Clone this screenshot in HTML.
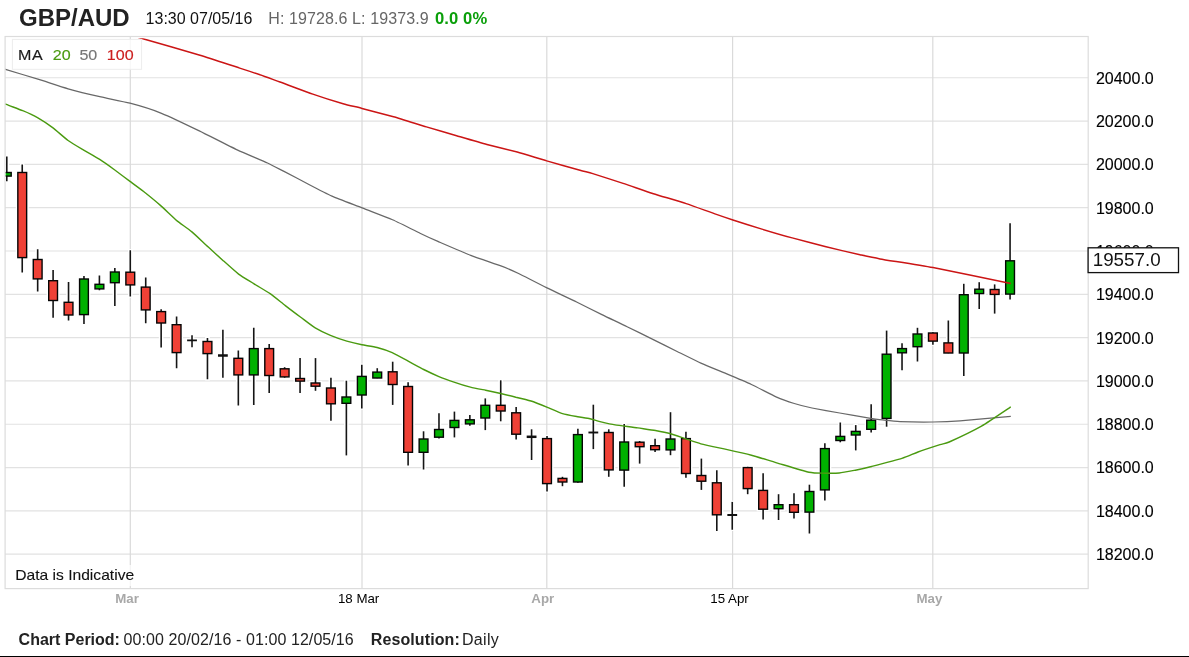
<!DOCTYPE html>
<html><head><meta charset="utf-8"><title>GBP/AUD</title>
<style>
html,body{margin:0;padding:0;background:#fff;}
body{width:1189px;height:657px;overflow:hidden;font-family:"Liberation Sans",sans-serif;}
svg{display:block;}
text{-webkit-font-smoothing:antialiased;}
svg{will-change:transform;}
text{font-family:"Liberation Sans",sans-serif;}
</style></head><body>
<svg width="1189" height="657" viewBox="0 0 1189 657">
<defs><clipPath id="cp"><rect x="5.7" y="38.2" width="1082" height="550"/></clipPath></defs>
<rect x="0" y="0" width="1189" height="657" fill="#fff"/>

<text x="19.0" y="25.6" font-size="24" font-weight="bold" fill="#222">GBP/AUD</text>
<text x="145.6" y="23.9" font-size="16" fill="#111">13:30 07/05/16</text>
<text x="268.3" y="23.9" font-size="16" letter-spacing="0.1" fill="#666">H: 19728.6 L: 19373.9</text>
<text x="435.0" y="23.9" font-size="16.6" letter-spacing="0.1" font-weight="bold" fill="#0a9f0a">0.0 0%</text>
<g stroke="#e2e2e2" stroke-width="1.2" fill="none">
<line x1="5.1" y1="77.75" x2="1088.2" y2="77.75"/>
<line x1="5.1" y1="121.06" x2="1088.2" y2="121.06"/>
<line x1="5.1" y1="164.37" x2="1088.2" y2="164.37"/>
<line x1="5.1" y1="207.68" x2="1088.2" y2="207.68"/>
<line x1="5.1" y1="250.99" x2="1088.2" y2="250.99"/>
<line x1="5.1" y1="294.30" x2="1088.2" y2="294.30"/>
<line x1="5.1" y1="337.61" x2="1088.2" y2="337.61"/>
<line x1="5.1" y1="380.92" x2="1088.2" y2="380.92"/>
<line x1="5.1" y1="424.23" x2="1088.2" y2="424.23"/>
<line x1="5.1" y1="467.54" x2="1088.2" y2="467.54"/>
<line x1="5.1" y1="510.85" x2="1088.2" y2="510.85"/>
<line x1="5.1" y1="554.16" x2="1088.2" y2="554.16"/>
</g>
<g stroke="#dadada" stroke-width="1.2" fill="none">
<line x1="130.3" y1="36.5" x2="130.3" y2="588.6"/>
<line x1="362.0" y1="36.5" x2="362.0" y2="588.6"/>
<line x1="546.8" y1="36.5" x2="546.8" y2="588.6"/>
<line x1="732.6" y1="36.5" x2="732.6" y2="588.6"/>
<line x1="932.8" y1="36.5" x2="932.8" y2="588.6"/>
</g>
<rect x="5.1" y="36.5" width="1083.1" height="552.1" fill="none" stroke="#dcdcdc" stroke-width="1.2"/>
<g clip-path="url(#cp)">
<g stroke="#fff" fill="#fff" stroke-linecap="butt">
<line x1="6.80" y1="155.4" x2="6.80" y2="182.5" stroke-width="4.6"/>
<rect x="2.40" y="172.5" width="8.8" height="3.6" stroke-width="4.2"/>
<line x1="22.23" y1="163.2" x2="22.23" y2="273.6" stroke-width="4.6"/>
<rect x="17.84" y="172.5" width="8.8" height="85.1" stroke-width="4.2"/>
<line x1="37.67" y1="248.0" x2="37.67" y2="292.8" stroke-width="4.6"/>
<rect x="33.27" y="259.5" width="8.8" height="19.4" stroke-width="4.2"/>
<line x1="53.10" y1="268.8" x2="53.10" y2="319.0" stroke-width="4.6"/>
<rect x="48.70" y="280.7" width="8.8" height="19.8" stroke-width="4.2"/>
<line x1="68.54" y1="280.7" x2="68.54" y2="321.6" stroke-width="4.6"/>
<rect x="64.14" y="302.3" width="8.8" height="12.7" stroke-width="4.2"/>
<line x1="83.97" y1="274.8" x2="83.97" y2="325.1" stroke-width="4.6"/>
<rect x="79.57" y="279.0" width="8.8" height="35.6" stroke-width="4.2"/>
<line x1="99.41" y1="274.2" x2="99.41" y2="291.4" stroke-width="4.6"/>
<rect x="95.01" y="284.3" width="8.8" height="4.6" stroke-width="4.2"/>
<line x1="114.84" y1="266.8" x2="114.84" y2="307.3" stroke-width="4.6"/>
<rect x="110.44" y="272.0" width="8.8" height="10.7" stroke-width="4.2"/>
<line x1="130.28" y1="249.0" x2="130.28" y2="297.8" stroke-width="4.6"/>
<rect x="125.88" y="272.2" width="8.8" height="12.7" stroke-width="4.2"/>
<line x1="145.72" y1="276.2" x2="145.72" y2="324.5" stroke-width="4.6"/>
<rect x="141.31" y="287.1" width="8.8" height="22.8" stroke-width="4.2"/>
<line x1="161.15" y1="308.0" x2="161.15" y2="348.6" stroke-width="4.6"/>
<rect x="156.75" y="311.6" width="8.8" height="11.4" stroke-width="4.2"/>
<line x1="176.59" y1="315.3" x2="176.59" y2="369.4" stroke-width="4.6"/>
<rect x="172.19" y="324.7" width="8.8" height="27.9" stroke-width="4.2"/>
<line x1="192.02" y1="334.0" x2="192.02" y2="348.5" stroke-width="4.6"/>
<line x1="185.72" y1="340.4" x2="198.32" y2="340.4" stroke-width="4.8"/>
<line x1="207.46" y1="336.8" x2="207.46" y2="380.5" stroke-width="4.6"/>
<rect x="203.06" y="341.5" width="8.8" height="12.1" stroke-width="4.2"/>
<line x1="222.89" y1="328.6" x2="222.89" y2="378.9" stroke-width="4.6"/>
<line x1="216.59" y1="355.5" x2="229.19" y2="355.5" stroke-width="4.8"/>
<line x1="238.33" y1="349.3" x2="238.33" y2="406.8" stroke-width="4.6"/>
<rect x="233.93" y="358.3" width="8.8" height="16.6" stroke-width="4.2"/>
<line x1="253.76" y1="326.5" x2="253.76" y2="406.2" stroke-width="4.6"/>
<rect x="249.36" y="348.6" width="8.8" height="26.3" stroke-width="4.2"/>
<line x1="269.19" y1="342.8" x2="269.19" y2="394.1" stroke-width="4.6"/>
<rect x="264.80" y="348.6" width="8.8" height="26.9" stroke-width="4.2"/>
<line x1="284.63" y1="366.0" x2="284.63" y2="378.9" stroke-width="4.6"/>
<rect x="280.23" y="368.8" width="8.8" height="8.1" stroke-width="4.2"/>
<line x1="300.06" y1="356.7" x2="300.06" y2="394.1" stroke-width="4.6"/>
<rect x="295.67" y="378.5" width="8.8" height="2.6" stroke-width="4.2"/>
<line x1="315.50" y1="356.9" x2="315.50" y2="392.0" stroke-width="4.6"/>
<rect x="311.10" y="383.0" width="8.8" height="3.2" stroke-width="4.2"/>
<line x1="330.94" y1="376.5" x2="330.94" y2="421.9" stroke-width="4.6"/>
<rect x="326.54" y="388.0" width="8.8" height="15.8" stroke-width="4.2"/>
<line x1="346.37" y1="379.5" x2="346.37" y2="456.6" stroke-width="4.6"/>
<rect x="341.97" y="397.0" width="8.8" height="6.3" stroke-width="4.2"/>
<line x1="361.81" y1="363.6" x2="361.81" y2="409.7" stroke-width="4.6"/>
<rect x="357.41" y="376.4" width="8.8" height="18.6" stroke-width="4.2"/>
<line x1="377.24" y1="367.0" x2="377.24" y2="379.4" stroke-width="4.6"/>
<rect x="372.84" y="372.1" width="8.8" height="5.9" stroke-width="4.2"/>
<line x1="392.68" y1="360.5" x2="392.68" y2="406.1" stroke-width="4.6"/>
<rect x="388.28" y="371.8" width="8.8" height="12.7" stroke-width="4.2"/>
<line x1="408.11" y1="381.1" x2="408.11" y2="466.7" stroke-width="4.6"/>
<rect x="403.71" y="386.5" width="8.8" height="65.8" stroke-width="4.2"/>
<line x1="423.55" y1="430.1" x2="423.55" y2="470.7" stroke-width="4.6"/>
<rect x="419.15" y="439.0" width="8.8" height="13.3" stroke-width="4.2"/>
<line x1="438.98" y1="412.0" x2="438.98" y2="439.6" stroke-width="4.6"/>
<rect x="434.58" y="429.5" width="8.8" height="7.7" stroke-width="4.2"/>
<line x1="454.42" y1="410.4" x2="454.42" y2="438.6" stroke-width="4.6"/>
<rect x="450.02" y="420.4" width="8.8" height="7.1" stroke-width="4.2"/>
<line x1="469.85" y1="413.8" x2="469.85" y2="426.9" stroke-width="4.6"/>
<rect x="465.45" y="419.8" width="8.8" height="4.1" stroke-width="4.2"/>
<line x1="485.29" y1="397.2" x2="485.29" y2="431.3" stroke-width="4.6"/>
<rect x="480.89" y="405.3" width="8.8" height="12.7" stroke-width="4.2"/>
<line x1="500.72" y1="379.1" x2="500.72" y2="422.5" stroke-width="4.6"/>
<rect x="496.32" y="405.3" width="8.8" height="5.7" stroke-width="4.2"/>
<line x1="516.15" y1="405.7" x2="516.15" y2="440.6" stroke-width="4.6"/>
<rect x="511.75" y="412.8" width="8.8" height="21.4" stroke-width="4.2"/>
<line x1="531.59" y1="428.1" x2="531.59" y2="461.2" stroke-width="4.6"/>
<line x1="525.29" y1="436.8" x2="537.89" y2="436.8" stroke-width="4.8"/>
<line x1="547.02" y1="434.8" x2="547.02" y2="492.7" stroke-width="4.6"/>
<rect x="542.62" y="438.6" width="8.8" height="45.0" stroke-width="4.2"/>
<line x1="562.46" y1="475.6" x2="562.46" y2="487.4" stroke-width="4.6"/>
<rect x="558.06" y="478.4" width="8.8" height="3.6" stroke-width="4.2"/>
<line x1="577.89" y1="427.5" x2="577.89" y2="484.0" stroke-width="4.6"/>
<rect x="573.50" y="434.6" width="8.8" height="47.4" stroke-width="4.2"/>
<line x1="593.33" y1="403.5" x2="593.33" y2="450.3" stroke-width="4.6"/>
<line x1="587.03" y1="432.5" x2="599.63" y2="432.5" stroke-width="4.8"/>
<line x1="608.76" y1="428.1" x2="608.76" y2="478.0" stroke-width="4.6"/>
<rect x="604.37" y="432.5" width="8.8" height="37.4" stroke-width="4.2"/>
<line x1="624.20" y1="422.7" x2="624.20" y2="488.0" stroke-width="4.6"/>
<rect x="619.80" y="442.0" width="8.8" height="28.1" stroke-width="4.2"/>
<line x1="639.63" y1="439.8" x2="639.63" y2="464.8" stroke-width="4.6"/>
<rect x="635.24" y="442.2" width="8.8" height="4.5" stroke-width="4.2"/>
<line x1="655.07" y1="437.6" x2="655.07" y2="453.1" stroke-width="4.6"/>
<rect x="650.67" y="445.7" width="8.8" height="4.0" stroke-width="4.2"/>
<line x1="670.50" y1="411.0" x2="670.50" y2="456.4" stroke-width="4.6"/>
<rect x="666.11" y="439.0" width="8.8" height="10.9" stroke-width="4.2"/>
<line x1="685.94" y1="430.5" x2="685.94" y2="479.0" stroke-width="4.6"/>
<rect x="681.54" y="438.6" width="8.8" height="34.9" stroke-width="4.2"/>
<line x1="701.38" y1="457.4" x2="701.38" y2="491.1" stroke-width="4.6"/>
<rect x="696.98" y="475.5" width="8.8" height="5.7" stroke-width="4.2"/>
<line x1="716.81" y1="469.0" x2="716.81" y2="532.3" stroke-width="4.6"/>
<rect x="712.41" y="482.8" width="8.8" height="32.0" stroke-width="4.2"/>
<line x1="732.25" y1="500.7" x2="732.25" y2="530.9" stroke-width="4.6"/>
<line x1="725.95" y1="515.0" x2="738.54" y2="515.0" stroke-width="4.8"/>
<line x1="747.68" y1="465.6" x2="747.68" y2="495.4" stroke-width="4.6"/>
<rect x="743.28" y="467.6" width="8.8" height="21.0" stroke-width="4.2"/>
<line x1="763.12" y1="472.0" x2="763.12" y2="520.8" stroke-width="4.6"/>
<rect x="758.72" y="490.4" width="8.8" height="18.8" stroke-width="4.2"/>
<line x1="778.55" y1="493.0" x2="778.55" y2="521.2" stroke-width="4.6"/>
<rect x="774.15" y="504.7" width="8.8" height="4.0" stroke-width="4.2"/>
<line x1="793.99" y1="492.0" x2="793.99" y2="519.6" stroke-width="4.6"/>
<rect x="789.59" y="504.7" width="8.8" height="7.6" stroke-width="4.2"/>
<line x1="809.42" y1="483.5" x2="809.42" y2="534.7" stroke-width="4.6"/>
<rect x="805.02" y="491.5" width="8.8" height="20.6" stroke-width="4.2"/>
<line x1="824.86" y1="442.1" x2="824.86" y2="501.6" stroke-width="4.6"/>
<rect x="820.46" y="448.6" width="8.8" height="41.3" stroke-width="4.2"/>
<line x1="840.29" y1="421.3" x2="840.29" y2="443.5" stroke-width="4.6"/>
<rect x="835.89" y="436.4" width="8.8" height="4.1" stroke-width="4.2"/>
<line x1="855.73" y1="423.9" x2="855.73" y2="451.6" stroke-width="4.6"/>
<rect x="851.33" y="431.4" width="8.8" height="3.6" stroke-width="4.2"/>
<line x1="871.16" y1="403.1" x2="871.16" y2="433.6" stroke-width="4.6"/>
<rect x="866.76" y="420.2" width="8.8" height="9.1" stroke-width="4.2"/>
<line x1="886.60" y1="329.4" x2="886.60" y2="427.9" stroke-width="4.6"/>
<rect x="882.20" y="354.2" width="8.8" height="64.2" stroke-width="4.2"/>
<line x1="902.03" y1="342.1" x2="902.03" y2="371.4" stroke-width="4.6"/>
<rect x="897.63" y="348.6" width="8.8" height="4.2" stroke-width="4.2"/>
<line x1="917.47" y1="326.6" x2="917.47" y2="362.7" stroke-width="4.6"/>
<rect x="913.07" y="334.0" width="8.8" height="12.7" stroke-width="4.2"/>
<line x1="932.90" y1="331.0" x2="932.90" y2="345.9" stroke-width="4.6"/>
<rect x="928.50" y="333.0" width="8.8" height="8.1" stroke-width="4.2"/>
<line x1="948.34" y1="319.3" x2="948.34" y2="354.4" stroke-width="4.6"/>
<rect x="943.94" y="342.9" width="8.8" height="10.1" stroke-width="4.2"/>
<line x1="963.77" y1="282.6" x2="963.77" y2="377.2" stroke-width="4.6"/>
<rect x="959.37" y="294.7" width="8.8" height="58.3" stroke-width="4.2"/>
<line x1="979.21" y1="281.0" x2="979.21" y2="310.2" stroke-width="4.6"/>
<rect x="974.81" y="289.2" width="8.8" height="4.4" stroke-width="4.2"/>
<line x1="994.64" y1="283.2" x2="994.64" y2="314.8" stroke-width="4.6"/>
<rect x="990.24" y="289.5" width="8.8" height="4.9" stroke-width="4.2"/>
<line x1="1010.07" y1="222.0" x2="1010.07" y2="300.7" stroke-width="4.6"/>
<rect x="1005.67" y="260.8" width="8.8" height="33.3" stroke-width="4.2"/>
</g>
<line x1="6.80" y1="156.6" x2="6.80" y2="181.3" stroke="#151515" stroke-width="1.6"/>
<rect x="2.40" y="172.5" width="8.8" height="3.6" fill="#00b100" stroke="#050505" stroke-width="1.4"/>
<line x1="22.23" y1="164.4" x2="22.23" y2="272.4" stroke="#151515" stroke-width="1.6"/>
<rect x="17.84" y="172.5" width="8.8" height="85.1" fill="#ef4136" stroke="#050505" stroke-width="1.4"/>
<line x1="37.67" y1="249.2" x2="37.67" y2="291.6" stroke="#151515" stroke-width="1.6"/>
<rect x="33.27" y="259.5" width="8.8" height="19.4" fill="#ef4136" stroke="#050505" stroke-width="1.4"/>
<line x1="53.10" y1="270.0" x2="53.10" y2="317.8" stroke="#151515" stroke-width="1.6"/>
<rect x="48.70" y="280.7" width="8.8" height="19.8" fill="#ef4136" stroke="#050505" stroke-width="1.4"/>
<line x1="68.54" y1="281.9" x2="68.54" y2="320.4" stroke="#151515" stroke-width="1.6"/>
<rect x="64.14" y="302.3" width="8.8" height="12.7" fill="#ef4136" stroke="#050505" stroke-width="1.4"/>
<line x1="83.97" y1="276.0" x2="83.97" y2="323.9" stroke="#151515" stroke-width="1.6"/>
<rect x="79.57" y="279.0" width="8.8" height="35.6" fill="#00b100" stroke="#050505" stroke-width="1.4"/>
<line x1="99.41" y1="275.4" x2="99.41" y2="290.2" stroke="#151515" stroke-width="1.6"/>
<rect x="95.01" y="284.3" width="8.8" height="4.6" fill="#00b100" stroke="#050505" stroke-width="1.4"/>
<line x1="114.84" y1="268.0" x2="114.84" y2="306.1" stroke="#151515" stroke-width="1.6"/>
<rect x="110.44" y="272.0" width="8.8" height="10.7" fill="#00b100" stroke="#050505" stroke-width="1.4"/>
<line x1="130.28" y1="250.2" x2="130.28" y2="296.6" stroke="#151515" stroke-width="1.6"/>
<rect x="125.88" y="272.2" width="8.8" height="12.7" fill="#ef4136" stroke="#050505" stroke-width="1.4"/>
<line x1="145.72" y1="277.4" x2="145.72" y2="323.3" stroke="#151515" stroke-width="1.6"/>
<rect x="141.31" y="287.1" width="8.8" height="22.8" fill="#ef4136" stroke="#050505" stroke-width="1.4"/>
<line x1="161.15" y1="309.2" x2="161.15" y2="347.4" stroke="#151515" stroke-width="1.6"/>
<rect x="156.75" y="311.6" width="8.8" height="11.4" fill="#ef4136" stroke="#050505" stroke-width="1.4"/>
<line x1="176.59" y1="316.5" x2="176.59" y2="368.2" stroke="#151515" stroke-width="1.6"/>
<rect x="172.19" y="324.7" width="8.8" height="27.9" fill="#ef4136" stroke="#050505" stroke-width="1.4"/>
<line x1="192.02" y1="335.2" x2="192.02" y2="347.3" stroke="#151515" stroke-width="1.6"/>
<line x1="187.12" y1="340.4" x2="196.92" y2="340.4" stroke="#111" stroke-width="1.9"/>
<line x1="207.46" y1="338.0" x2="207.46" y2="379.3" stroke="#151515" stroke-width="1.6"/>
<rect x="203.06" y="341.5" width="8.8" height="12.1" fill="#ef4136" stroke="#050505" stroke-width="1.4"/>
<line x1="222.89" y1="329.8" x2="222.89" y2="377.7" stroke="#151515" stroke-width="1.6"/>
<line x1="217.99" y1="355.5" x2="227.79" y2="355.5" stroke="#111" stroke-width="2.5"/>
<line x1="238.33" y1="350.5" x2="238.33" y2="405.6" stroke="#151515" stroke-width="1.6"/>
<rect x="233.93" y="358.3" width="8.8" height="16.6" fill="#ef4136" stroke="#050505" stroke-width="1.4"/>
<line x1="253.76" y1="327.7" x2="253.76" y2="405.0" stroke="#151515" stroke-width="1.6"/>
<rect x="249.36" y="348.6" width="8.8" height="26.3" fill="#00b100" stroke="#050505" stroke-width="1.4"/>
<line x1="269.19" y1="344.0" x2="269.19" y2="392.9" stroke="#151515" stroke-width="1.6"/>
<rect x="264.80" y="348.6" width="8.8" height="26.9" fill="#ef4136" stroke="#050505" stroke-width="1.4"/>
<line x1="284.63" y1="367.2" x2="284.63" y2="377.7" stroke="#151515" stroke-width="1.6"/>
<rect x="280.23" y="368.8" width="8.8" height="8.1" fill="#ef4136" stroke="#050505" stroke-width="1.4"/>
<line x1="300.06" y1="357.9" x2="300.06" y2="392.9" stroke="#151515" stroke-width="1.6"/>
<rect x="295.67" y="378.5" width="8.8" height="2.6" fill="#ef4136" stroke="#050505" stroke-width="1.4"/>
<line x1="315.50" y1="358.1" x2="315.50" y2="390.8" stroke="#151515" stroke-width="1.6"/>
<rect x="311.10" y="383.0" width="8.8" height="3.2" fill="#ef4136" stroke="#050505" stroke-width="1.4"/>
<line x1="330.94" y1="377.7" x2="330.94" y2="420.7" stroke="#151515" stroke-width="1.6"/>
<rect x="326.54" y="388.0" width="8.8" height="15.8" fill="#ef4136" stroke="#050505" stroke-width="1.4"/>
<line x1="346.37" y1="380.7" x2="346.37" y2="455.4" stroke="#151515" stroke-width="1.6"/>
<rect x="341.97" y="397.0" width="8.8" height="6.3" fill="#00b100" stroke="#050505" stroke-width="1.4"/>
<line x1="361.81" y1="364.8" x2="361.81" y2="408.5" stroke="#151515" stroke-width="1.6"/>
<rect x="357.41" y="376.4" width="8.8" height="18.6" fill="#00b100" stroke="#050505" stroke-width="1.4"/>
<line x1="377.24" y1="368.2" x2="377.24" y2="378.2" stroke="#151515" stroke-width="1.6"/>
<rect x="372.84" y="372.1" width="8.8" height="5.9" fill="#00b100" stroke="#050505" stroke-width="1.4"/>
<line x1="392.68" y1="361.7" x2="392.68" y2="404.9" stroke="#151515" stroke-width="1.6"/>
<rect x="388.28" y="371.8" width="8.8" height="12.7" fill="#ef4136" stroke="#050505" stroke-width="1.4"/>
<line x1="408.11" y1="382.3" x2="408.11" y2="465.5" stroke="#151515" stroke-width="1.6"/>
<rect x="403.71" y="386.5" width="8.8" height="65.8" fill="#ef4136" stroke="#050505" stroke-width="1.4"/>
<line x1="423.55" y1="431.3" x2="423.55" y2="469.5" stroke="#151515" stroke-width="1.6"/>
<rect x="419.15" y="439.0" width="8.8" height="13.3" fill="#00b100" stroke="#050505" stroke-width="1.4"/>
<line x1="438.98" y1="413.2" x2="438.98" y2="438.4" stroke="#151515" stroke-width="1.6"/>
<rect x="434.58" y="429.5" width="8.8" height="7.7" fill="#00b100" stroke="#050505" stroke-width="1.4"/>
<line x1="454.42" y1="411.6" x2="454.42" y2="437.4" stroke="#151515" stroke-width="1.6"/>
<rect x="450.02" y="420.4" width="8.8" height="7.1" fill="#00b100" stroke="#050505" stroke-width="1.4"/>
<line x1="469.85" y1="415.0" x2="469.85" y2="425.7" stroke="#151515" stroke-width="1.6"/>
<rect x="465.45" y="419.8" width="8.8" height="4.1" fill="#00b100" stroke="#050505" stroke-width="1.4"/>
<line x1="485.29" y1="398.4" x2="485.29" y2="430.1" stroke="#151515" stroke-width="1.6"/>
<rect x="480.89" y="405.3" width="8.8" height="12.7" fill="#00b100" stroke="#050505" stroke-width="1.4"/>
<line x1="500.72" y1="380.3" x2="500.72" y2="421.3" stroke="#151515" stroke-width="1.6"/>
<rect x="496.32" y="405.3" width="8.8" height="5.7" fill="#ef4136" stroke="#050505" stroke-width="1.4"/>
<line x1="516.15" y1="406.9" x2="516.15" y2="439.4" stroke="#151515" stroke-width="1.6"/>
<rect x="511.75" y="412.8" width="8.8" height="21.4" fill="#ef4136" stroke="#050505" stroke-width="1.4"/>
<line x1="531.59" y1="429.3" x2="531.59" y2="460.0" stroke="#151515" stroke-width="1.6"/>
<line x1="526.69" y1="436.8" x2="536.49" y2="436.8" stroke="#111" stroke-width="2.5"/>
<line x1="547.02" y1="436.0" x2="547.02" y2="491.5" stroke="#151515" stroke-width="1.6"/>
<rect x="542.62" y="438.6" width="8.8" height="45.0" fill="#ef4136" stroke="#050505" stroke-width="1.4"/>
<line x1="562.46" y1="476.8" x2="562.46" y2="486.2" stroke="#151515" stroke-width="1.6"/>
<rect x="558.06" y="478.4" width="8.8" height="3.6" fill="#ef4136" stroke="#050505" stroke-width="1.4"/>
<line x1="577.89" y1="428.7" x2="577.89" y2="482.8" stroke="#151515" stroke-width="1.6"/>
<rect x="573.50" y="434.6" width="8.8" height="47.4" fill="#00b100" stroke="#050505" stroke-width="1.4"/>
<line x1="593.33" y1="404.7" x2="593.33" y2="449.1" stroke="#151515" stroke-width="1.6"/>
<line x1="588.43" y1="432.5" x2="598.23" y2="432.5" stroke="#111" stroke-width="1.9"/>
<line x1="608.76" y1="429.3" x2="608.76" y2="476.8" stroke="#151515" stroke-width="1.6"/>
<rect x="604.37" y="432.5" width="8.8" height="37.4" fill="#ef4136" stroke="#050505" stroke-width="1.4"/>
<line x1="624.20" y1="423.9" x2="624.20" y2="486.8" stroke="#151515" stroke-width="1.6"/>
<rect x="619.80" y="442.0" width="8.8" height="28.1" fill="#00b100" stroke="#050505" stroke-width="1.4"/>
<line x1="639.63" y1="441.0" x2="639.63" y2="463.6" stroke="#151515" stroke-width="1.6"/>
<rect x="635.24" y="442.2" width="8.8" height="4.5" fill="#ef4136" stroke="#050505" stroke-width="1.4"/>
<line x1="655.07" y1="438.8" x2="655.07" y2="451.9" stroke="#151515" stroke-width="1.6"/>
<rect x="650.67" y="445.7" width="8.8" height="4.0" fill="#ef4136" stroke="#050505" stroke-width="1.4"/>
<line x1="670.50" y1="412.2" x2="670.50" y2="455.2" stroke="#151515" stroke-width="1.6"/>
<rect x="666.11" y="439.0" width="8.8" height="10.9" fill="#00b100" stroke="#050505" stroke-width="1.4"/>
<line x1="685.94" y1="431.7" x2="685.94" y2="477.8" stroke="#151515" stroke-width="1.6"/>
<rect x="681.54" y="438.6" width="8.8" height="34.9" fill="#ef4136" stroke="#050505" stroke-width="1.4"/>
<line x1="701.38" y1="458.6" x2="701.38" y2="489.9" stroke="#151515" stroke-width="1.6"/>
<rect x="696.98" y="475.5" width="8.8" height="5.7" fill="#ef4136" stroke="#050505" stroke-width="1.4"/>
<line x1="716.81" y1="470.2" x2="716.81" y2="531.1" stroke="#151515" stroke-width="1.6"/>
<rect x="712.41" y="482.8" width="8.8" height="32.0" fill="#ef4136" stroke="#050505" stroke-width="1.4"/>
<line x1="732.25" y1="501.9" x2="732.25" y2="529.7" stroke="#151515" stroke-width="1.6"/>
<line x1="727.35" y1="515.0" x2="737.14" y2="515.0" stroke="#111" stroke-width="1.9"/>
<line x1="747.68" y1="466.8" x2="747.68" y2="494.2" stroke="#151515" stroke-width="1.6"/>
<rect x="743.28" y="467.6" width="8.8" height="21.0" fill="#ef4136" stroke="#050505" stroke-width="1.4"/>
<line x1="763.12" y1="473.2" x2="763.12" y2="519.6" stroke="#151515" stroke-width="1.6"/>
<rect x="758.72" y="490.4" width="8.8" height="18.8" fill="#ef4136" stroke="#050505" stroke-width="1.4"/>
<line x1="778.55" y1="494.2" x2="778.55" y2="520.0" stroke="#151515" stroke-width="1.6"/>
<rect x="774.15" y="504.7" width="8.8" height="4.0" fill="#00b100" stroke="#050505" stroke-width="1.4"/>
<line x1="793.99" y1="493.2" x2="793.99" y2="518.4" stroke="#151515" stroke-width="1.6"/>
<rect x="789.59" y="504.7" width="8.8" height="7.6" fill="#ef4136" stroke="#050505" stroke-width="1.4"/>
<line x1="809.42" y1="484.7" x2="809.42" y2="533.5" stroke="#151515" stroke-width="1.6"/>
<rect x="805.02" y="491.5" width="8.8" height="20.6" fill="#00b100" stroke="#050505" stroke-width="1.4"/>
<line x1="824.86" y1="443.3" x2="824.86" y2="500.4" stroke="#151515" stroke-width="1.6"/>
<rect x="820.46" y="448.6" width="8.8" height="41.3" fill="#00b100" stroke="#050505" stroke-width="1.4"/>
<line x1="840.29" y1="422.5" x2="840.29" y2="442.3" stroke="#151515" stroke-width="1.6"/>
<rect x="835.89" y="436.4" width="8.8" height="4.1" fill="#00b100" stroke="#050505" stroke-width="1.4"/>
<line x1="855.73" y1="425.1" x2="855.73" y2="450.4" stroke="#151515" stroke-width="1.6"/>
<rect x="851.33" y="431.4" width="8.8" height="3.6" fill="#00b100" stroke="#050505" stroke-width="1.4"/>
<line x1="871.16" y1="404.3" x2="871.16" y2="432.4" stroke="#151515" stroke-width="1.6"/>
<rect x="866.76" y="420.2" width="8.8" height="9.1" fill="#00b100" stroke="#050505" stroke-width="1.4"/>
<line x1="886.60" y1="330.6" x2="886.60" y2="426.7" stroke="#151515" stroke-width="1.6"/>
<rect x="882.20" y="354.2" width="8.8" height="64.2" fill="#00b100" stroke="#050505" stroke-width="1.4"/>
<line x1="902.03" y1="343.3" x2="902.03" y2="370.2" stroke="#151515" stroke-width="1.6"/>
<rect x="897.63" y="348.6" width="8.8" height="4.2" fill="#00b100" stroke="#050505" stroke-width="1.4"/>
<line x1="917.47" y1="327.8" x2="917.47" y2="361.5" stroke="#151515" stroke-width="1.6"/>
<rect x="913.07" y="334.0" width="8.8" height="12.7" fill="#00b100" stroke="#050505" stroke-width="1.4"/>
<line x1="932.90" y1="332.2" x2="932.90" y2="344.7" stroke="#151515" stroke-width="1.6"/>
<rect x="928.50" y="333.0" width="8.8" height="8.1" fill="#ef4136" stroke="#050505" stroke-width="1.4"/>
<line x1="948.34" y1="320.5" x2="948.34" y2="353.2" stroke="#151515" stroke-width="1.6"/>
<rect x="943.94" y="342.9" width="8.8" height="10.1" fill="#ef4136" stroke="#050505" stroke-width="1.4"/>
<line x1="963.77" y1="283.8" x2="963.77" y2="376.0" stroke="#151515" stroke-width="1.6"/>
<rect x="959.37" y="294.7" width="8.8" height="58.3" fill="#00b100" stroke="#050505" stroke-width="1.4"/>
<line x1="979.21" y1="282.2" x2="979.21" y2="309.0" stroke="#151515" stroke-width="1.6"/>
<rect x="974.81" y="289.2" width="8.8" height="4.4" fill="#00b100" stroke="#050505" stroke-width="1.4"/>
<line x1="994.64" y1="284.4" x2="994.64" y2="313.6" stroke="#151515" stroke-width="1.6"/>
<rect x="990.24" y="289.5" width="8.8" height="4.9" fill="#ef4136" stroke="#050505" stroke-width="1.4"/>
<line x1="1010.07" y1="223.2" x2="1010.07" y2="299.5" stroke="#151515" stroke-width="1.6"/>
<rect x="1005.67" y="260.8" width="8.8" height="33.3" fill="#00b100" stroke="#050505" stroke-width="1.4"/>
<path d="M-10.0,64.6 C-8.4,65.1 1.5,68.1 6.3,69.6 C11.1,71.1 31.7,77.3 37.9,79.2 C44.1,81.1 61.8,87.0 68.1,88.8 C74.4,90.6 94.7,95.5 100.9,96.9 C107.1,98.3 123.9,101.6 130.0,103.2 C136.1,104.8 154.6,110.5 161.5,113.3 C168.4,116.1 191.7,127.2 199.3,130.9 C206.9,134.6 230.4,146.7 237.2,149.9 C244.0,153.1 262.8,160.8 267.5,163.0 C272.2,165.2 279.9,169.3 284.0,171.4 C288.1,173.5 303.2,181.5 308.0,184.0 C312.8,186.5 326.6,193.7 332.0,196.1 C337.4,198.5 356.1,205.5 362.2,207.9 C368.2,210.3 386.7,217.3 392.5,219.8 C398.3,222.3 415.5,231.0 420.0,233.2 C424.5,235.4 432.8,239.2 437.9,241.4 C443.0,243.6 464.4,252.9 470.7,255.3 C477.0,257.8 496.1,264.1 500.9,265.9 C505.7,267.7 514.1,271.3 518.6,273.5 C523.1,275.7 540.6,284.8 546.4,287.6 C552.2,290.5 571.1,299.3 576.6,302.0 C582.1,304.7 596.9,312.1 601.9,314.6 C606.9,317.1 622.1,324.2 627.1,326.7 C632.1,329.1 647.2,336.6 652.3,339.1 C657.3,341.6 672.7,349.3 677.6,351.7 C682.5,354.1 696.0,360.9 700.9,363.1 C705.8,365.3 721.2,371.6 726.2,373.7 C731.2,375.8 746.4,382.2 751.4,384.5 C756.4,386.8 772.3,395.2 776.6,397.1 C780.9,399.0 790.8,402.4 794.3,403.5 C797.8,404.6 807.5,407.1 812.0,408.0 C816.5,408.9 834.4,412.1 839.7,413.0 C845.0,413.9 860.7,416.6 865.0,417.3 C869.3,418.0 879.1,419.5 882.6,419.9 C886.1,420.3 895.0,421.4 900.0,421.6 C905.0,421.8 927.0,422.1 933.0,422.0 C939.0,421.9 952.2,421.4 960.0,420.8 C967.8,420.2 1005.7,416.8 1010.8,416.4" fill="none" stroke="#686868" stroke-width="1.25" stroke-linejoin="round"/>
<path d="M-10.0,98.2 C-8.4,98.8 3.0,103.2 6.3,104.4 C9.6,105.7 19.5,109.4 22.7,110.7 C25.9,112.0 34.9,116.1 37.9,117.8 C40.9,119.5 50.0,125.6 53.0,127.9 C56.0,130.2 65.1,138.3 68.1,140.5 C71.1,142.7 80.1,148.0 83.3,149.9 C86.5,151.8 96.5,157.4 99.7,159.4 C102.9,161.4 111.8,167.8 114.8,170.0 C117.8,172.2 127.0,179.1 130.0,181.4 C133.0,183.7 142.2,190.4 145.2,192.8 C148.2,195.2 157.2,202.6 160.4,205.4 C163.6,208.2 173.7,217.9 176.8,220.6 C180.0,223.2 188.8,229.2 191.9,231.9 C195.1,234.6 205.1,244.2 208.3,247.1 C211.5,250.0 220.5,258.2 223.5,260.9 C226.5,263.6 235.6,271.8 238.6,274.1 C241.6,276.4 250.5,281.6 253.7,283.6 C256.8,285.6 266.9,291.5 270.1,293.7 C273.3,295.9 282.3,303.3 285.3,305.6 C288.3,307.9 297.4,314.8 300.4,317.0 C303.4,319.2 312.2,326.1 315.2,327.9 C318.2,329.7 327.2,334.1 330.4,335.4 C333.6,336.7 343.7,340.3 346.8,341.2 C349.9,342.1 358.9,344.2 361.9,344.8 C364.9,345.4 374.1,346.7 377.1,347.5 C380.1,348.3 389.1,351.2 392.2,352.6 C395.3,354.0 405.5,359.7 408.6,361.4 C411.8,363.1 420.7,368.0 423.7,369.5 C426.7,371.0 435.9,375.3 438.9,376.6 C441.9,377.9 450.9,381.1 454.0,382.1 C457.1,383.2 467.2,386.3 470.4,387.1 C473.6,387.9 482.6,389.6 485.6,390.2 C488.6,390.8 497.7,392.8 500.7,393.5 C503.7,394.2 512.8,396.4 515.8,397.2 C518.8,397.9 527.8,400.0 531.0,401.0 C534.2,402.0 544.2,406.0 547.4,407.3 C550.5,408.6 559.5,412.7 562.5,413.6 C565.5,414.5 575.0,416.2 577.7,416.7 C580.5,417.2 587.8,418.2 590.0,418.7 C592.2,419.2 597.5,421.0 600.0,421.6 C602.5,422.2 611.3,424.3 615.1,424.9 C618.9,425.5 633.9,427.3 637.9,427.9 C641.9,428.5 652.2,429.9 655.5,430.5 C658.8,431.1 667.7,432.9 670.7,433.7 C673.7,434.5 682.8,437.8 685.8,438.8 C688.8,439.8 696.9,442.7 700.9,443.8 C704.9,444.9 721.2,448.3 726.2,449.4 C731.2,450.5 746.4,453.9 751.4,455.2 C756.4,456.5 770.8,461.1 776.6,462.8 C782.4,464.5 804.1,471.2 809.0,472.2 C813.9,473.2 822.1,473.1 825.1,473.2 C828.1,473.3 836.3,473.3 839.3,473.0 C842.3,472.7 852.2,470.8 855.4,470.2 C858.6,469.6 867.0,467.7 871.6,466.5 C876.2,465.3 897.3,459.8 901.9,458.4 C906.5,456.9 914.2,453.4 918.0,452.0 C921.8,450.6 936.9,445.7 940.0,444.7 C943.1,443.7 945.1,443.9 949.2,442.0 C953.4,440.1 975.3,429.6 981.5,426.1 C987.7,422.6 1007.9,408.8 1010.8,406.9" fill="none" stroke="#4a9a10" stroke-width="1.4" stroke-linejoin="round"/>
<path d="M100.0,26.6 C104.4,27.8 133.8,36.1 143.8,39.0 C153.8,41.9 190.4,52.4 200.0,55.3 C209.6,58.2 233.7,66.2 239.7,68.1 C245.7,70.0 256.0,73.4 260.0,74.8 C264.0,76.1 274.7,80.1 280.0,82.0 C285.3,83.9 306.5,91.9 312.8,94.1 C319.1,96.3 338.2,102.3 343.1,103.7 C348.0,105.1 357.0,107.1 362.0,108.4 C367.0,109.7 387.1,115.0 393.5,116.8 C399.9,118.6 420.1,125.0 426.4,126.9 C432.7,128.8 450.6,133.9 456.6,135.7 C462.7,137.5 480.8,142.9 486.9,144.5 C493.0,146.1 511.2,150.5 517.2,152.1 C523.2,153.7 540.4,159.1 546.7,160.9 C553.0,162.7 575.4,169.0 580.0,170.3 C584.6,171.6 588.5,172.3 592.8,173.6 C597.1,174.9 617.0,181.4 623.1,183.4 C629.2,185.4 647.1,191.7 653.4,193.7 C659.7,195.7 679.9,201.5 686.2,203.6 C692.5,205.7 711.7,212.8 716.4,214.4 C721.1,216.0 728.4,218.5 732.9,220.0 C737.4,221.5 756.0,227.3 761.9,229.1 C767.8,230.9 785.9,236.2 792.2,237.9 C798.5,239.6 818.2,244.8 825.0,246.5 C831.8,248.2 854.5,253.6 860.0,254.8 C865.5,256.0 872.7,257.6 880.0,258.9 C887.3,260.2 919.9,265.1 933.0,267.6 C946.1,270.1 1002.9,281.9 1010.7,283.5" fill="none" stroke="#cb1515" stroke-width="1.5" stroke-linejoin="round"/>
</g>
<rect x="12.4" y="39.4" width="129.2" height="29.9" fill="#fff" fill-opacity="0.8" stroke="#ededed" stroke-width="1"/>
<g font-size="14.1" stroke-width="0.15">
<text transform="translate(18.1,59.6) scale(1.14,1)" fill="#1a1a1a" stroke="#1a1a1a" letter-spacing="0.4">MA</text>
<text transform="translate(52.8,59.6) scale(1.14,1)" fill="#4a9a10" stroke="#4a9a10">20</text>
<text transform="translate(79.4,59.6) scale(1.14,1)" fill="#777" stroke="#777">50</text>
<text transform="translate(106.8,59.6) scale(1.14,1)" fill="#cc1f1f" stroke="#cc1f1f">100</text>
</g>
<rect x="12" y="565" width="125" height="21" fill="#fff" fill-opacity="0.7"/>
<text transform="translate(15.2,579.7) scale(1.116,1)" font-size="14" fill="#111" stroke="#111" stroke-width="0.1">Data is Indicative</text>
<g font-size="16" fill="#000" stroke="#000" stroke-width="0.12">
<text x="1095.9" y="83.6">20400.0</text>
<text x="1095.9" y="126.9">20200.0</text>
<text x="1095.9" y="170.2">20000.0</text>
<text x="1095.9" y="213.5">19800.0</text>
<text x="1095.9" y="256.8">19600.0</text>
<text x="1095.9" y="300.2">19400.0</text>
<text x="1095.9" y="343.5">19200.0</text>
<text x="1095.9" y="386.8">19000.0</text>
<text x="1095.9" y="430.1">18800.0</text>
<text x="1095.9" y="473.4">18600.0</text>
<text x="1095.9" y="516.7">18400.0</text>
<text x="1095.9" y="560.0">18200.0</text>
</g>
<rect x="1088.1" y="247.8" width="90.4" height="24.8" fill="#fff" stroke="#111" stroke-width="1.3"/>
<text x="1092.7" y="266.0" font-size="18.8" fill="#111">19557.0</text>
<g font-size="13.3" text-anchor="middle">
<text x="127.0" y="602.9" font-weight="bold" fill="#a8a8a8">Mar</text>
<text x="358.6" y="602.9" fill="#000">18 Mar</text>
<text x="542.8" y="602.9" font-weight="bold" fill="#a8a8a8">Apr</text>
<text x="729.6" y="602.9" fill="#000">15 Apr</text>
<text x="929.4" y="602.9" font-weight="bold" fill="#a8a8a8">May</text>
</g>
<text x="18.6" y="644.7" font-size="16" font-weight="bold" fill="#222">Chart Period:</text>
<text x="123.6" y="644.7" font-size="16" letter-spacing="0.08" fill="#222">00:00 20/02/16 - 01:00 12/05/16</text>
<text x="370.8" y="644.7" font-size="16" letter-spacing="0.1" font-weight="bold" fill="#222">Resolution:</text>
<text x="462.0" y="644.7" font-size="16" letter-spacing="0.3" fill="#222">Daily</text>
<rect x="0" y="656" width="1189" height="1" fill="#000"/>
</svg></body></html>
